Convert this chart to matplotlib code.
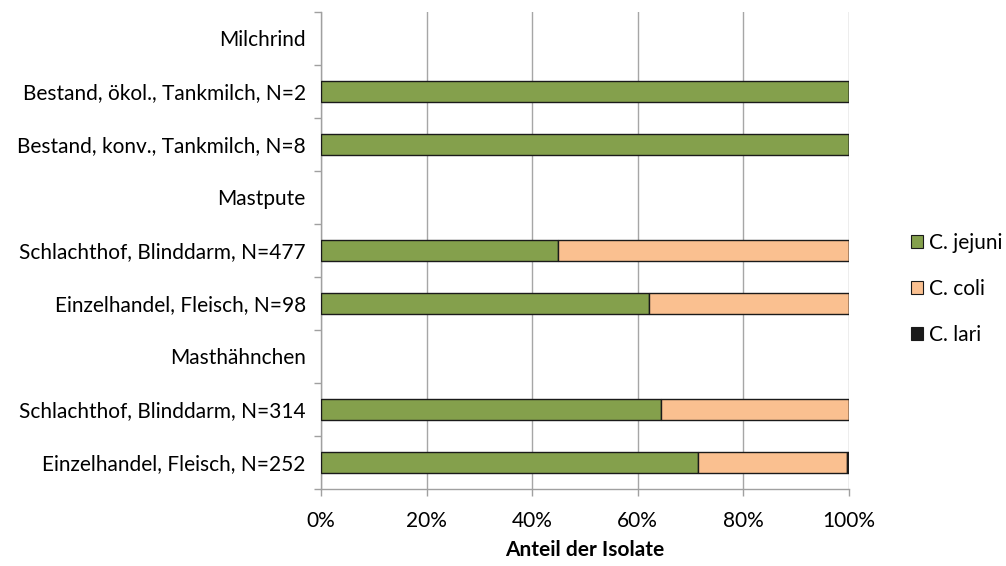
import numpy as np
import matplotlib.pyplot as plt
from matplotlib.patches import Patch

plt.rcParams['font.family'] = ['Lato', 'DejaVu Sans']

# Rows from top to bottom; group headings carry no bar
labels = [
    'Milchrind',
    'Bestand, ökol., Tankmilch, N=2',
    'Bestand, konv., Tankmilch, N=8',
    'Mastpute',
    'Schlachthof, Blinddarm, N=477',
    'Einzelhandel, Fleisch, N=98',
    'Masthähnchen',
    'Schlachthof, Blinddarm, N=314',
    'Einzelhandel, Fleisch, N=252',
]
is_header = [True, False, False, True, False, False, True, False, False]

# Shares of isolates (fraction of 1)
jejuni = [np.nan, 1.0, 1.0, np.nan, 0.448, 0.622, np.nan, 0.643, 0.714]
coli = [np.nan, 0.0, 0.0, np.nan, 0.552, 0.378, np.nan, 0.357, 0.282]
lari = [np.nan, 0.0, 0.0, np.nan, 0.0, 0.0, np.nan, 0.0, 0.004]

species = ['C. jejuni', 'C. coli', 'C. lari']
colors = ['#84a04c', '#fac090', '#1a1a1a']

fs = 15

fig = plt.figure(figsize=(10.06, 5.66), dpi=100)
ax = fig.add_axes([0.319, 0.136, 0.525, 0.843])

y = np.arange(len(labels))
mask = ~np.array(is_header)
yb = y[mask]
left = np.zeros(mask.sum())
for vals, col in zip([jejuni, coli, lari], colors):
    v = np.array(vals)[mask]
    ax.barh(yb, v, left=left, height=0.41, color=col,
            edgecolor='#1a1a1a', linewidth=1.0, zorder=3)
    left = left + v

ax.set_xlim(0, 1)
ax.set_ylim(len(labels) - 0.5, -0.5)
ax.set_xticks(np.arange(0, 1.01, 0.2))
ax.set_xticklabels([f'{int(round(t * 100))}%' for t in np.arange(0, 1.01, 0.2)])
ax.set_yticks(y)
ax.set_yticklabels(labels)
ax.set_yticks(np.arange(-0.5, len(labels)), minor=True)
ax.tick_params(axis='y', which='major', length=0, pad=11, labelsize=fs)
ax.tick_params(axis='y', which='minor', length=5, color='#a0a0a0', width=1)
ax.tick_params(axis='x', length=5, color='#a0a0a0', width=1, labelsize=fs, pad=11)

ax.grid(axis='x', color='#a6a6a6', linewidth=1, zorder=0)
for s in ['top', 'right']:
    ax.spines[s].set_visible(False)
for s in ['left', 'bottom']:
    ax.spines[s].set_color('#a0a0a0')
    ax.spines[s].set_linewidth(1)

ax.set_xlabel('Anteil der Isolate', fontsize=fs, fontweight='bold', labelpad=6)

handles = [Patch(facecolor=c, edgecolor='#1a1a1a', linewidth=0.8) for c in colors]
fig.legend(handles, species, loc='center left', bbox_to_anchor=(0.906, 0.49),
           frameon=False, fontsize=fs, handlelength=0.55, handleheight=0.55,
           handletextpad=0.3, labelspacing=1.25, borderpad=0, borderaxespad=0)

fig.savefig('out.png', dpi=100)
